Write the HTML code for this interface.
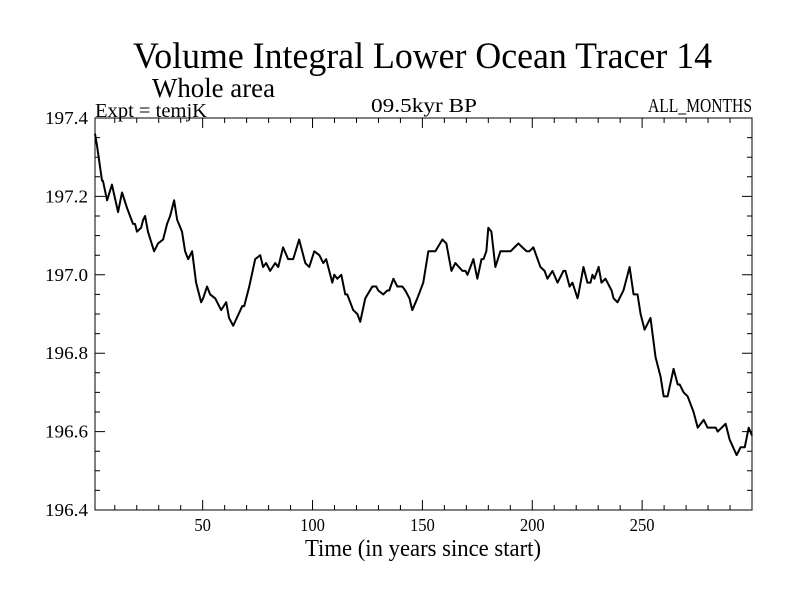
<!DOCTYPE html>
<html><head><meta charset="utf-8"><style>
body{margin:0;background:#fff}
svg text{font-family:"Liberation Serif",serif;fill:#000}
</style></head><body>
<svg id="c" width="800" height="600">
<text x="133" y="68" font-size="37" textLength="579" lengthAdjust="spacingAndGlyphs">Volume Integral Lower Ocean Tracer 14</text>
<text x="152" y="97" font-size="27" textLength="123" lengthAdjust="spacingAndGlyphs">Whole area</text>
<text x="95" y="117" font-size="20" textLength="112" lengthAdjust="spacingAndGlyphs">Expt = temjK</text>
<text x="371" y="112" font-size="20" textLength="106" lengthAdjust="spacingAndGlyphs">09.5kyr BP</text>
<text x="648" y="112" font-size="20" textLength="104" lengthAdjust="spacingAndGlyphs">ALL_MONTHS</text>
<text x="305" y="556" font-size="24" textLength="236" lengthAdjust="spacingAndGlyphs">Time (in years since start)</text>
<g id="axes"></g>
</svg>
<script>
const years=[1,1.9,4.2,4.6,6.5,8.7,11.5,13.3,15.6,18.3,19.2,20.1,22,22.9,23.8,25.1,27.9,29.7,32,33.8,35.2,37,38.4,40.6,42,43.4,45.2,47,49.3,50.2,52,53.4,55.7,58.4,60.7,62,63.9,68,68.9,71.2,73.9,76.2,77.5,78.9,80.7,83,84.4,86.6,88.9,91.2,93.9,96.7,98.5,100.8,103.1,104.9,106.2,109,109.9,111.3,113.1,114.9,115.8,118.5,120.4,121.7,124,127.2,129,129.9,132.2,134,134.9,136.8,138.6,140.9,142.2,144.1,145.4,147.7,150.4,152.7,154.5,155.9,159.1,160.9,163.2,165,168.2,169.6,170.5,173.2,175,176.9,177.8,179.1,180,181.4,183.2,185.5,188.7,190.1,191.9,193.7,195.5,197.4,198.7,200.5,203.7,205.6,206.9,209.2,211.5,214.2,215.1,217,218.3,220.6,221,223.3,225.1,226.5,227.4,228.3,230.2,231.5,233.3,236.1,237,238.8,241.5,244.3,246.1,247.9,249.3,251.1,253.8,256.1,258.4,259.8,261.6,264.3,266.2,267.1,268.9,270.7,273.4,275.3,278,279.8,281.2,282.6,283.5,284.4,288,289.8,293,294.8,296.7,298.5,300];
const values=[197.36,197.33,197.24,197.24,197.19,197.23,197.16,197.21,197.17,197.13,197.13,197.11,197.12,197.14,197.15,197.11,197.06,197.08,197.09,197.13,197.15,197.19,197.14,197.11,197.06,197.04,197.06,196.98,196.93,196.94,196.97,196.95,196.94,196.91,196.93,196.89,196.87,196.92,196.92,196.97,197.04,197.05,197.02,197.03,197.01,197.03,197.02,197.07,197.04,197.04,197.09,197.03,197.02,197.06,197.05,197.03,197.04,196.98,197.00,196.99,197.00,196.95,196.95,196.91,196.90,196.88,196.94,196.97,196.97,196.96,196.95,196.96,196.96,196.99,196.97,196.97,196.96,196.94,196.91,196.94,196.98,197.06,197.06,197.06,197.09,197.08,197.01,197.03,197.01,197.01,197.00,197.04,196.99,197.04,197.04,197.06,197.12,197.11,197.02,197.06,197.06,197.06,197.07,197.08,197.07,197.06,197.06,197.07,197.02,197.01,196.99,197.01,196.98,197.01,197.01,196.97,196.98,196.94,196.95,197.02,196.98,196.98,197.00,196.99,197.02,196.98,196.99,196.96,196.94,196.93,196.96,197.02,196.95,196.95,196.90,196.86,196.89,196.79,196.74,196.69,196.69,196.76,196.72,196.72,196.70,196.69,196.65,196.61,196.63,196.61,196.61,196.61,196.61,196.60,196.62,196.58,196.54,196.56,196.56,196.61,196.59];
const xTicks=[50,100,150,200,250];
const yTicks=[196.4,196.6,196.8,197.0,197.2,197.4];
const yLabels=["196.4","196.6","196.8","197.0","197.2","197.4"];
const X0=95,X1=752,Y0=510,Y1=118,XMIN=1,XMAX=300,YMIN=196.4,YMAX=197.4;
const sx=v=>X0+(v-XMIN)/(XMAX-XMIN)*(X1-X0);
const sy=v=>Y0-(v-YMIN)/(YMAX-YMIN)*(Y0-Y1);
const NS="http://www.w3.org/2000/svg";
const g=document.getElementById('axes');
function mk(t,a){const e=document.createElementNS(NS,t);for(const k in a)e.setAttribute(k,a[k]);g.appendChild(e);return e;}
const fr=mk('rect',{x:X0,y:Y1,width:X1-X0,height:Y0-Y1,fill:'none',stroke:'#000','stroke-width':1});


let d='';
for(let v=10;v<=300;v+=10){const x=sx(v),L=v%50===0?10:5;d+=`M${x},${Y0}v${-L}M${x},${Y1}v${L}`;}
for(let i=0;i<=20;i++){const v=YMIN+i*0.05,y=sy(v),L=i%4===0?10:5;d+=`M${X0},${y}h${L}M${X1},${y}h${-L}`;}
const tk=mk('path',{d:d,stroke:'#000','stroke-width':1,fill:'none'});


xTicks.forEach(v=>{const s=String(v);const t=mk('text',{x:sx(v),y:Y0+21,'font-size':18,'text-anchor':'middle',textLength:s.length*8.3,lengthAdjust:'spacingAndGlyphs'});t.textContent=s;

});
yTicks.forEach((v,i)=>{const t=mk('text',{x:X0-7,y:sy(v)+6,'font-size':18,'text-anchor':'end',textLength:43,lengthAdjust:'spacingAndGlyphs'});t.textContent=yLabels[i];

});
const ln=mk('polyline',{points:years.map((y,i)=>sx(y)+','+sy(values[i])).join(' '),fill:'none',stroke:'#000','stroke-width':2,'stroke-linejoin':'round'});


</script>
</body></html>
